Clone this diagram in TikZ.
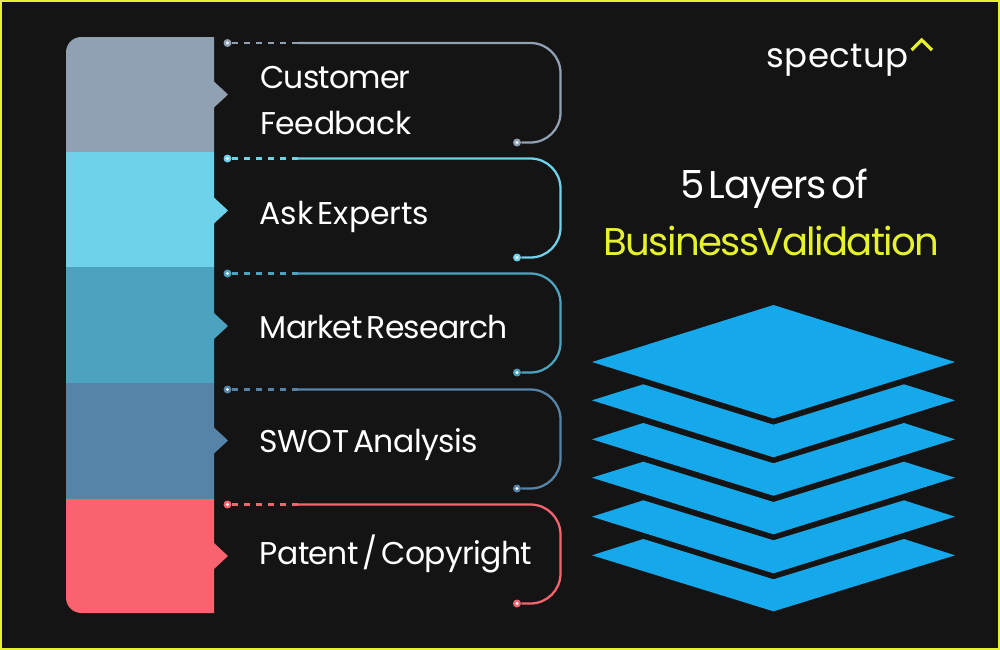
\documentclass[tikz,border=0pt]{standalone}
\usepackage{fontspec}
\setmainfont{Poppins}[WordSpace=0.5,LetterSpace=-2.6]
\newfontfamily\titlefont{Poppins}[WordSpace=0.5,LetterSpace=-4.2]
\newfontfamily\titlefontb{Poppins}[WordSpace=0.5,LetterSpace=-2.7]
\newfontfamily\logofont{Poppins}[LetterSpace=1.5]
\newfontfamily\labelfontA{Poppins}[WordSpace=0.5,LetterSpace=0]
\newfontfamily\labelfontB{Poppins}[WordSpace=0.5,LetterSpace=-1.6]
\newfontfamily\labelfontC{Poppins}[WordSpace=0.5,LetterSpace=-2]
\newfontfamily\labelfontD{Poppins}[WordSpace=0.5,LetterSpace=-1.2]
\usetikzlibrary{calc}
\definecolor{bgc}{HTML}{141414}
\definecolor{framec}{HTML}{E6F22E}
\definecolor{la}{HTML}{8FA1B3}
\definecolor{lb}{HTML}{6DD2EA}
\definecolor{lc}{HTML}{4BA3BF}
\definecolor{ld}{HTML}{5683A8}
\definecolor{le}{HTML}{F9636F}
\definecolor{stackc}{HTML}{15A9EB}
\tikzset{
  x=0.75pt,y=-0.75pt,
  label text/.style={text=white,anchor=base west,inner sep=0pt,font=#1\fontsize{23.6}{28}\selectfont},
  label text/.default={\rmfamily},
  title text/.style={anchor=base,inner sep=0pt,font=#1\fontsize{29}{35}\selectfont},
  pin/.style={circle,fill=#1,minimum size=6pt,inner sep=0pt},
  pin core/.style={circle,fill=white,minimum size=2.6pt,inner sep=0pt},
  wire/.style={draw=#1,line width=1.7pt,rounded corners=22.5pt},
  wire dash/.style={draw=#1,line width=1.7pt,dash pattern=on 4.5pt off 4.5pt},
  plate/.style={fill=stackc,draw=none},
}
\newcommand{\layerband}[4]{% top, bottom, tip y, colour
  \fill[#4] (66,#1) -- (214,#1) -- (214,#3-13) -- (228,#3) -- (214,#3+13) -- (214,#2) -- (66,#2) -- cycle;
}
\newcommand{\connector}[4]{% name, top y, bottom y, colour
  \node[pin=#4] (#1s) at (227.5,#2) {};
  \node[pin core] at (#1s) {};
  \node[pin=#4] (#1e) at (517,#3) {};
  \node[pin core] at (#1e) {};
  \coordinate (#1m) at (298,#2);
  \coordinate (#1a) at (560.5,#2);
  \coordinate (#1b) at (560.5,#3);
  \draw[wire dash=#4] (#1s) -- (#1m);
  \draw[wire=#4] (#1m) -- (#1a) -- (#1b) -- (#1e);
}
\begin{document}
\begin{tikzpicture}
\fill[framec] (0,0) rectangle (1000,650);
\fill[bgc] (2,2) rectangle (998,648);
\useasboundingbox (0,0) rectangle (1000,650);

% layer column
\begin{scope}
  \clip[rounded corners=11.5pt] (66,37) -- (350,37) -- (350,37.01) -- (214,37.01) -- (240,37.01) -- (240,613) -- (66,613) -- cycle;
  \layerband{37}{152.5}{94.5}{la}
  \layerband{152}{267.5}{210.5}{lb}
  \layerband{267}{383.5}{326}{lc}
  \layerband{383}{499.5}{440.5}{ld}
  \layerband{499}{613}{556}{le}
\end{scope}

\connector{ca}{43}{142.5}{la}
\connector{cb}{158.5}{257.5}{lb}
\connector{cc}{273.5}{372.5}{lc}
\connector{cd}{389.5}{488.5}{ld}
\connector{ce}{504.5}{603.5}{le}

\node[label text] (t1) at (260,88) {Customer};
\node[label text=\labelfontD] (t1b) at (260,134) {Feedback};
\node[label text=\labelfontA] (t2) at (259.5,224) {Ask Experts};
\node[label text] (t3) at (259.5,338) {Market Research};
\node[label text=\labelfontB] (t4) at (259.5,452) {SWOT Analysis};
\node[label text=\labelfontC] (t5) at (259.5,564) {Patent / Copyright};

% logo
\node[anchor=base west,inner sep=0pt,text=white,font=\logofont\fontsize{25.5}{30}\selectfont] (logo) at (766,67) {spectup};
\coordinate (c1) at (911.5,50);
\coordinate (c2) at (921.7,40);
\coordinate (c3) at (932,50);
\draw[framec,line width=2.4pt] (c1) -- (c2) -- (c3);

% title
\node[title text=\titlefontb,text=white] (title1) at (774,198) {5 Layers of};
\node[title text=\titlefont,text=framec] (title2) at (771.5,255) {BusinessValidation};

% stack
\foreach \ly/\py/\by/\ny in {555.3/539/611.3/579.3,516.7/500.3/573.3/540.3,477.7/461.7/534.3/502,439.3/423/495.7/463.3,400.3/384.3/457.3/424.7}{
  \fill[plate] (592,\ly) -- (643.3,\py) -- (773.5,\ny) -- (904,\py) -- (955,\ly) -- (773.5,\by) -- cycle;
}
\fill[plate] (773.5,305) -- (955,362) -- (773.5,418.5) -- (592,362) -- cycle;
\end{tikzpicture}
\end{document}
